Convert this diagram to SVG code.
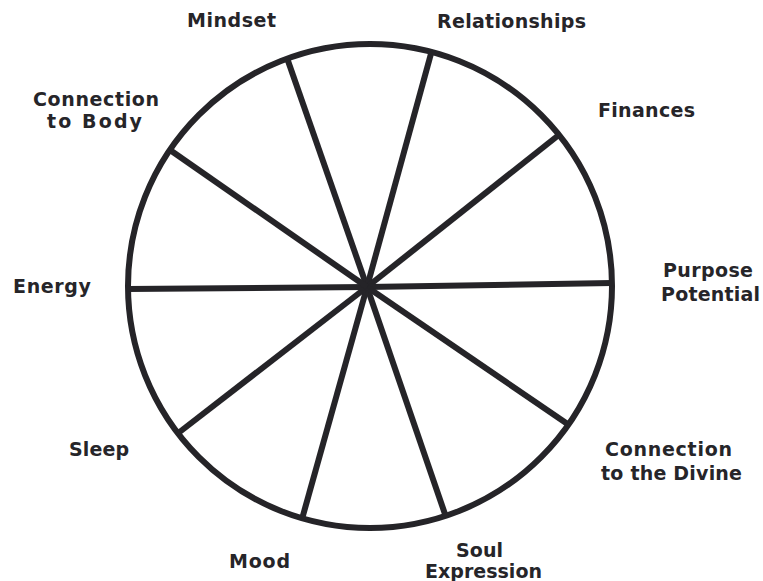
<svg xmlns="http://www.w3.org/2000/svg" width="763" height="581" viewBox="0 0 763 581">
<style>
.rim{fill:none;stroke:#252428;stroke-width:6}
.sp{stroke:#252428;stroke-width:6;stroke-linecap:butt}
.lb{font-family:"DejaVu Sans",sans-serif;font-weight:bold;font-size:19px;fill:#262529;text-anchor:middle}
</style>
<rect width="763" height="581" fill="#ffffff"/>
<g id="wheel">
<circle class="rim" cx="370" cy="286" r="242"/>
</g>
<g id="connectors">
<line class="sp" x1="367" y1="287" x2="287" y2="58"/>
<line class="sp" x1="367" y1="287" x2="432" y2="50"/>
<line class="sp" x1="367" y1="287" x2="560" y2="134"/>
<line class="sp" x1="367" y1="287" x2="612" y2="283"/>
<line class="sp" x1="367" y1="287" x2="569" y2="425"/>
<line class="sp" x1="367" y1="287" x2="446" y2="517"/>
<line class="sp" x1="367" y1="287" x2="302" y2="519"/>
<line class="sp" x1="367" y1="287" x2="177" y2="434"/>
<line class="sp" x1="367" y1="287" x2="128" y2="289"/>
<line class="sp" x1="367" y1="287" x2="170" y2="150"/>
</g>
<g id="mindset"><text class="lb" x="231.5" y="27" textLength="89">Mindset</text></g>
<g id="relationships"><text class="lb" x="511.5" y="28" textLength="149">Relationships</text></g>
<g id="finances"><text class="lb" x="646.5" y="117" textLength="97">Finances</text></g>
<g id="purpose-potential"><text class="lb" x="708" y="277" textLength="90">Purpose</text><text class="lb" x="710.5" y="301" textLength="99">Potential</text></g>
<g id="connection-divine"><text class="lb" x="668.5" y="456" textLength="127">Connection</text><text class="lb" x="671.5" y="480" textLength="141">to the Divine</text></g>
<g id="soul-expression"><text class="lb" x="479.5" y="557" textLength="47">Soul</text><text class="lb" x="483.5" y="578" textLength="117">Expression</text></g>
<g id="mood"><text class="lb" x="259.5" y="568" textLength="61">Mood</text></g>
<g id="sleep"><text class="lb" x="99" y="456" textLength="60">Sleep</text></g>
<g id="energy"><text class="lb" x="52" y="293" textLength="78">Energy</text></g>
<g id="connection-body"><text class="lb" x="96" y="106" textLength="126">Connection</text><text class="lb" x="94.5" y="128" textLength="95">to Body</text></g>
</svg>
